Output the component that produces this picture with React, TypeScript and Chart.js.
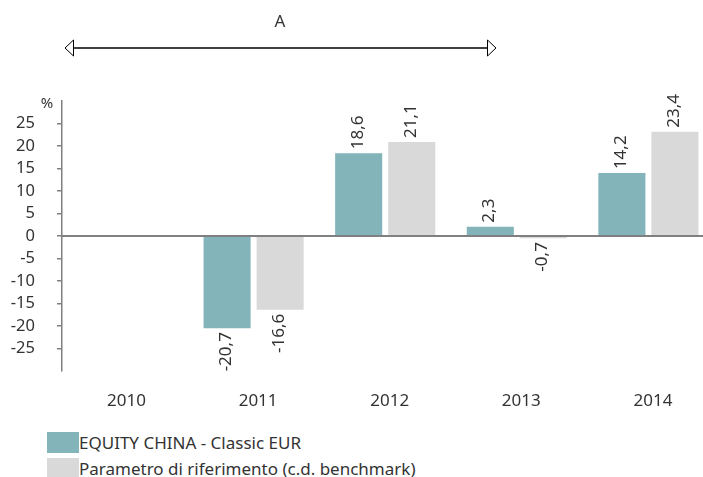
import React, { useEffect, useRef } from "react";
import { Chart, registerables } from "chart.js";

Chart.register(...registerables);

const categories = ["2010", "2011", "2012", "2013", "2014"];
const fundLabel = "EQUITY CHINA - Classic EUR";
const benchLabel = "Parametro di riferimento (c.d. benchmark)";
const fundValues: (number | null)[] = [null, -20.7, 18.6, 2.3, 14.2];
const benchValues: (number | null)[] = [null, -16.6, 21.1, -0.7, 23.4];
const yTicks = [-25, -20, -15, -10, -5, 0, 5, 10, 15, 20, 25];
const periodLabel = "A";

const FUND_COLOR = "#82B4BA";
const BENCH_COLOR = "#D9D9D9";
const TEXT_COLOR = "#333333";
const AXIS_COLOR = "#808080";
const FONT = "'Noto Sans', sans-serif";

const fmt = (v: number) => v.toFixed(1).replace(".", ",");
const toPoints = (vals: (number | null)[]) =>
  vals.map((v, i) => ({ x: i, y: v }));

const zeroLinePlugin = {
  id: "zeroLine",
  afterDatasetsDraw(chart: any) {
    const ctx = chart.ctx;
    const ya = chart.scales.y;
    const y0 = ya.getPixelForValue(0);
    ctx.save();
    ctx.strokeStyle = AXIS_COLOR;
    ctx.lineWidth = 2;
    ctx.beginPath();
    ctx.moveTo(chart.chartArea.left, y0);
    ctx.lineTo(chart.width, y0);
    ctx.stroke();
    ctx.restore();
  },
};

const labelPlugin = {
  id: "barLabels",
  afterDatasetsDraw(chart: any) {
    const ctx = chart.ctx;
    ctx.save();
    ctx.font = `17px ${FONT}`;
    ctx.fillStyle = TEXT_COLOR;
    ctx.textBaseline = "middle";
    chart.data.datasets.forEach((ds: any, di: number) => {
      const meta = chart.getDatasetMeta(di);
      meta.data.forEach((el: any, i: number) => {
        const v = ds.data[i].y;
        if (v === null || v === undefined) return;
        ctx.save();
        if (v >= 0) {
          ctx.translate(el.x - 1, el.y - 3);
          ctx.rotate(-Math.PI / 2);
          ctx.textAlign = "left";
        } else {
          ctx.translate(el.x - 1, el.y + 3);
          ctx.rotate(-Math.PI / 2);
          ctx.textAlign = "right";
        }
        ctx.fillText(fmt(v), 0, 0);
        ctx.restore();
      });
    });
    ctx.restore();
  },
};

const annotationPlugin = {
  id: "topAnnotations",
  afterDraw(chart: any) {
    const ctx = chart.ctx;
    const ya = chart.scales.y;
    ctx.save();
    ctx.font = `15px ${FONT}`;
    ctx.fillStyle = TEXT_COLOR;
    ctx.textAlign = "center";
    ctx.textBaseline = "middle";
    ctx.fillText("%", ya.right - 15, chart.chartArea.top + 3);

    // period arrow
    const x1 = 65;
    const x2 = 496;
    const y = 48;
    const hw = 8;
    const hl = 8.5;
    ctx.strokeStyle = "#000";
    ctx.lineWidth = 1.3;
    ctx.beginPath();
    ctx.moveTo(x1 + hl, y);
    ctx.lineTo(x2 - hl, y);
    ctx.stroke();
    ctx.fillStyle = "#fff";
    ctx.lineWidth = 1;
    ctx.beginPath();
    ctx.moveTo(x1, y);
    ctx.lineTo(x1 + hl, y - hw);
    ctx.lineTo(x1 + hl, y + hw);
    ctx.closePath();
    ctx.fill();
    ctx.stroke();
    ctx.beginPath();
    ctx.moveTo(x2, y);
    ctx.lineTo(x2 - hl, y - hw);
    ctx.lineTo(x2 - hl, y + hw);
    ctx.closePath();
    ctx.fill();
    ctx.stroke();

    ctx.font = `17px ${FONT}`;
    ctx.fillStyle = TEXT_COLOR;
    ctx.textAlign = "center";
    ctx.textBaseline = "middle";
    ctx.fillText(periodLabel, 280, 22);
    ctx.restore();
  },
};

export default function App() {
  const ref = useRef<HTMLCanvasElement | null>(null);

  useEffect(() => {
    if (!ref.current) return;
    const chart = new Chart(ref.current, {
      type: "bar",
      data: {
        datasets: [
          {
            label: fundLabel,
            data: toPoints(fundValues) as any,
            backgroundColor: FUND_COLOR,
            borderColor: "rgba(255,255,255,0.45)",
            borderWidth: 1,
            categoryPercentage: 0.806,
            barPercentage: 0.925,
          },
          {
            label: benchLabel,
            data: toPoints(benchValues) as any,
            backgroundColor: BENCH_COLOR,
            borderColor: "rgba(255,255,255,0.5)",
            borderWidth: 1,
            categoryPercentage: 0.806,
            barPercentage: 0.925,
          },
        ],
      },
      options: {
        animation: false,
        responsive: true,
        maintainAspectRatio: false,
        layout: { padding: { top: 101, left: 0, right: 0, bottom: 0 } },
        plugins: {
          legend: { display: false },
          tooltip: { enabled: false },
        },
        scales: {
          x: {
            type: "linear",
            offset: false,
            min: -0.456,
            max: 4.544,
            afterBuildTicks(scale: any) {
              scale.ticks = categories.map((_, i) => ({ value: i }));
            },
            grid: { display: false, drawTicks: false },
            border: { display: false },
            ticks: {
              color: TEXT_COLOR,
              font: { family: FONT, size: 17 },
              padding: 20,
              labelOffset: 4.5,
              maxRotation: 0,
              autoSkip: false,
              callback: (v: any) => categories[Math.round(Number(v))] ?? "",
            },
            afterFit(scale: any) {
              scale.height = 49;
            },
          },
          y: {
            min: -30,
            max: 30,
            afterBuildTicks(scale: any) {
              scale.ticks = [-30, ...yTicks, 30].map((v) => ({ value: v }));
            },
            ticks: {
              color: TEXT_COLOR,
              font: { family: FONT, size: 16.5 },
              padding: 22,
              autoSkip: false,
              callback: (v: any) =>
                yTicks.includes(Number(v)) ? String(v) : "",
            },
            grid: {
              tickLength: 5,
              lineWidth: 1.5,
              color: "rgba(0,0,0,0)",
              tickColor: (c: any) =>
                c.tick && yTicks.includes(c.tick.value)
                  ? AXIS_COLOR
                  : "rgba(0,0,0,0)",
              tickWidth: 1.5,
            },
            border: { display: true, color: AXIS_COLOR, width: 1.5 },
            afterFit(scale: any) {
              scale.width = 62;
            },
          },
        },
      },
      plugins: [zeroLinePlugin, labelPlugin, annotationPlugin],
    });
    return () => chart.destroy();
  }, []);

  const legendItems = [
    { color: FUND_COLOR, label: fundLabel },
    { color: BENCH_COLOR, label: benchLabel },
  ];

  return (
    <div
      style={{
        position: "fixed",
        left: 0,
        top: 0,
        width: 703,
        height: 477,
        overflow: "hidden",
        background: "#fff",
      }}
    >
      <div style={{ position: "absolute", left: 0, top: 0, width: 720, height: 420 }}>
        <canvas ref={ref} />
      </div>
      <div
        style={{
          position: "absolute",
          left: 47,
          top: 429.5,
          fontFamily: FONT,
          fontSize: 17,
          color: TEXT_COLOR,
        }}
      >
        {legendItems.map((it) => (
          <div
            key={it.label}
            style={{ display: "flex", alignItems: "center", height: 26 }}
          >
            <span
              style={{
                display: "inline-block",
                width: 32,
                height: 21,
                background: it.color,
              }}
            />
            <span style={{ whiteSpace: "nowrap", lineHeight: "21px" }}>{it.label}</span>
          </div>
        ))}
      </div>
    </div>
  );
}
